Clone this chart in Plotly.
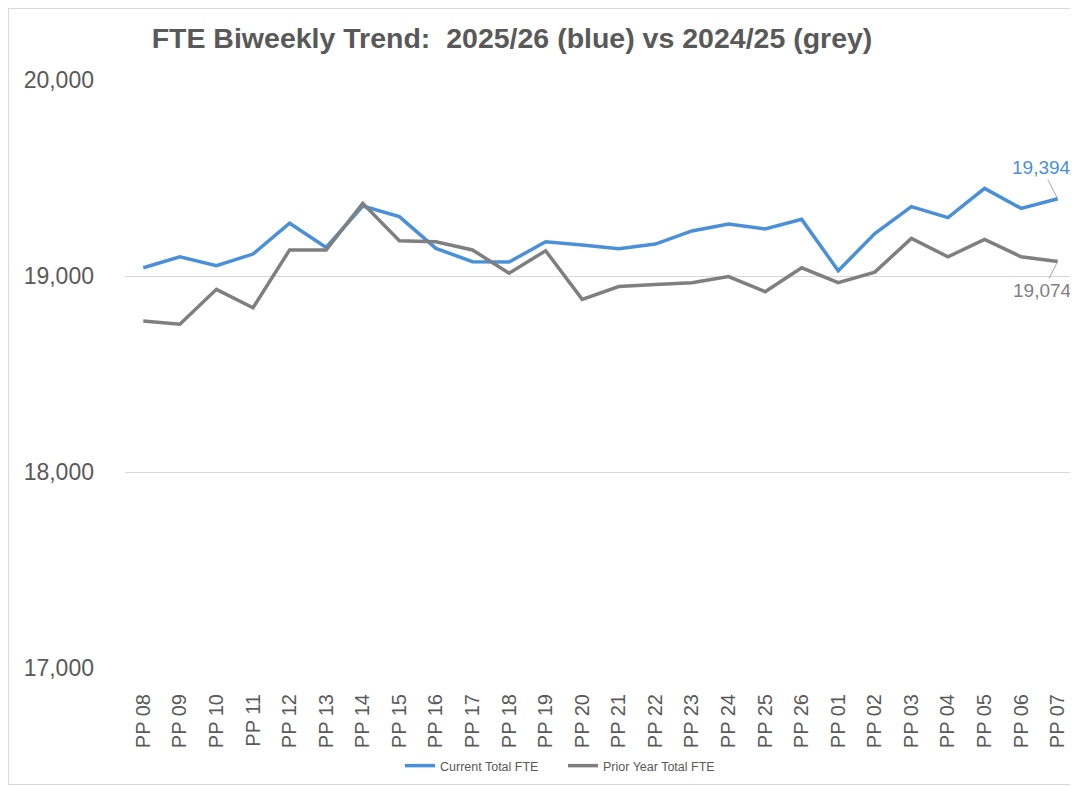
import plotly.graph_objects as go

# Pay periods (biweekly)
periods = ['PP 08', 'PP 09', 'PP 10', 'PP 11', 'PP 12', 'PP 13', 'PP 14', 'PP 15',
           'PP 16', 'PP 17', 'PP 18', 'PP 19', 'PP 20', 'PP 21', 'PP 22', 'PP 23',
           'PP 24', 'PP 25', 'PP 26', 'PP 01', 'PP 02', 'PP 03', 'PP 04', 'PP 05',
           'PP 06', 'PP 07']

current_fte = [19042, 19098, 19053, 19112, 19269, 19146, 19357, 19303,
               19141, 19073, 19071, 19175, 19158, 19139, 19163, 19230,
               19265, 19240, 19289, 19027, 19217, 19354, 19298, 19447,
               19345, 19394]

prior_fte = [18770, 18754, 18932, 18838, 19133, 19133, 19371, 19180,
             19175, 19133, 19014, 19129, 18881, 18946, 18956, 18966,
             18997, 18920, 19042, 18966, 19020, 19192, 19098, 19187,
             19098, 19074]

BLUE = '#4a90d9'
GREY = '#7f7f7f'
TEXT = '#595959'
FONT = 'Liberation Sans, Arial, sans-serif'

W, H = 1070, 778
L, R, T, B = 117, 2, 72, 118
PW, PH = W - L - R, H - T - B


def px(x):
    return (x - L) / PW


def py(y):
    return (H - B - y) / PH


fig = go.Figure()
fig.add_trace(go.Scatter(x=periods, y=current_fte, mode='lines', name='Current Total FTE',
                         line=dict(color=BLUE, width=3.5)))
fig.add_trace(go.Scatter(x=periods, y=prior_fte, mode='lines', name='Prior Year Total FTE',
                         line=dict(color=GREY, width=3.5)))

# etiquetas del último punto
fig.add_annotation(x=periods[-1], y=current_fte[-1], text=f'{current_fte[-1]:,}',
                   showarrow=True, arrowhead=0, arrowwidth=1, arrowcolor='#a6a6a6',
                   ax=-16, ay=-31, standoff=2,
                   font=dict(size=19, color=BLUE, family=FONT))
fig.add_annotation(x=periods[-1], y=prior_fte[-1], text=f'{prior_fte[-1]:,}',
                   showarrow=True, arrowhead=0, arrowwidth=1, arrowcolor='#a6a6a6',
                   ax=-15, ay=29, standoff=2,
                   font=dict(size=19, color=GREY, family=FONT))

# borde del gráfico
fig.add_shape(type='rect', xref='paper', yref='paper',
              x0=px(0.5), x1=px(W - 0.5), y0=py(H - 1.5), y1=py(0.5),
              line=dict(color='#d9d9d9', width=1), fillcolor='rgba(0,0,0,0)')

fig.update_layout(
    width=W, height=H,
    paper_bgcolor='#ffffff', plot_bgcolor='#ffffff',
    margin=dict(l=L, r=R, t=T, b=B),
    font=dict(family=FONT, color=TEXT),
    title=dict(text='<b>FTE Biweekly Trend:  2025/26 (blue) vs 2024/25 (grey)</b>',
               x=504 / W, xanchor='center', y=1 - 30 / H, yanchor='middle',
               font=dict(family=FONT, size=28.5, color=TEXT)),
    xaxis=dict(range=[-0.5, len(periods) - 0.5], tickangle=-90, showgrid=False,
               showline=False, ticks='', ticklabelstandoff=21,
               tickfont=dict(size=20, color=TEXT)),
    yaxis=dict(range=[17000, 20000], dtick=1000, tickformat=',', showgrid=True,
               gridcolor='#d9d9d9', gridwidth=1, zeroline=False, showline=False,
               ticks='', ticklabelstandoff=30,
               tickfont=dict(size=23, color=TEXT)),
    legend=dict(orientation='h', x=px(392), xanchor='left', y=py(758), yanchor='middle',
                font=dict(size=12.5, color=TEXT), itemwidth=30, entrywidth=118),
    showlegend=True,
)

fig.write_html('out.html')
